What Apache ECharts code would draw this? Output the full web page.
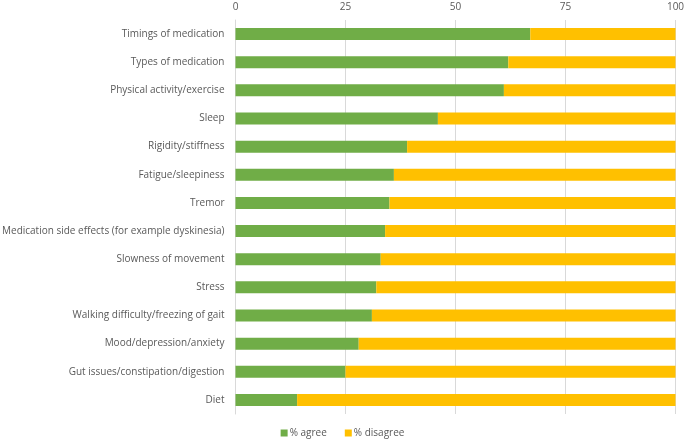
<!DOCTYPE html>
<html>
<head>
<meta charset="utf-8">
<script src="https://cdn.jsdelivr.net/npm/echarts@6/dist/echarts.min.js"></script>
<style>
html,body{margin:0;padding:0;background:#fff;}
#chart{width:685px;height:441px;}
</style>
</head>
<body>
<div id="chart"></div>
<script>
const categories = [
  "Timings of medication",
  "Types of medication",
  "Physical activity/exercise",
  "Sleep",
  "Rigidity/stiffness",
  "Fatigue/sleepiness",
  "Tremor",
  "Medication side effects (for example dyskinesia)",
  "Slowness of movement",
  "Stress",
  "Walking difficulty/freezing of gait",
  "Mood/depression/anxiety",
  "Gut issues/constipation/digestion",
  "Diet"
];
const agree    = [67, 62, 61, 46, 39, 36, 35, 34, 33, 32, 31, 28, 25, 14];
const disagree = [33, 38, 39, 54, 61, 64, 65, 66, 67, 68, 69, 72, 75, 86];
const xTicks = [0, 25, 50, 75, 100];

const font = "'Open Sans', 'Noto Sans', sans-serif";
const chart = echarts.init(document.getElementById('chart'), null, {renderer: 'canvas'});
chart.setOption({
  animation: false,
  backgroundColor: '#ffffff',
  grid: {left: 235.5, right: 9.5, top: 20, bottom: 27, containLabel: false, outerBoundsMode: 'none'},
  legend: {
    bottom: -2,
    left: 'center',
    itemWidth: 7,
    itemHeight: 7,
    itemGap: 18,
    icon: 'rect',
    textStyle: {color: '#595959', fontSize: 10, fontFamily: font, padding: [0, 0, 0, -3]},
    data: ['% agree', '% disagree']
  },
  xAxis: {
    type: 'value',
    position: 'top',
    min: xTicks[0],
    max: xTicks[xTicks.length - 1],
    interval: 25,
    axisLine: {show: false},
    axisTick: {show: false},
    axisLabel: {color: '#595959', fontSize: 10, fontFamily: font, margin: 8},
    splitLine: {show: true, lineStyle: {color: '#d9d9d9', width: 1}}
  },
  yAxis: {
    type: 'category',
    inverse: true,
    data: categories,
    axisLine: {show: true, lineStyle: {color: '#d9d9d9', width: 1}},
    axisTick: {show: false},
    axisLabel: {color: '#595959', fontSize: 10, fontFamily: font, margin: 11}
  },
  series: [
    {
      name: '% agree',
      type: 'bar',
      stack: 'total',
      data: agree,
      barWidth: 12,
      itemStyle: {color: '#70AD47'}
    },
    {
      name: '% disagree',
      type: 'bar',
      stack: 'total',
      data: disagree,
      barWidth: 12,
      itemStyle: {color: '#FFC000'}
    }
  ]
});
</script>
</body>
</html>
